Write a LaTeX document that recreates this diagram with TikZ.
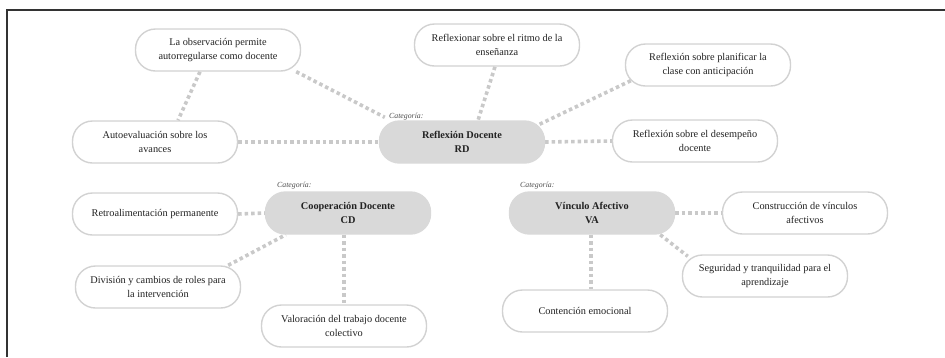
\documentclass[tikz,border=0pt]{standalone}
\usepackage{fontspec}
\setmainfont{Liberation Serif}
\usetikzlibrary{backgrounds}
\definecolor{linkgray}{HTML}{C9C9C9}
\definecolor{boxline}{HTML}{D2D2D2}
\definecolor{catfill}{HTML}{D9D9D9}
\definecolor{txt}{HTML}{222222}
\tikzset{
  item/.style={draw=boxline, line width=1.4pt, fill=white, rounded corners=20pt,
    minimum width=165pt, minimum height=42pt, align=center, text=txt,
    font=\fontsize{10.3}{14.5}\selectfont, inner sep=2pt},
  cat/.style={item, draw=catfill, fill=catfill, font=\bfseries\fontsize{10.3}{14.5}\selectfont},
  catlabel/.style={font=\itshape\fontsize{7.8}{9}\selectfont, text=txt!80, inner sep=0pt, anchor=base west},
  link/.style={draw=linkgray, line width=3.6pt, dash pattern=on 3.5pt off 3pt},
  frameline/.style={draw=black!80, line width=1.2pt}
}
\begin{document}
\begin{tikzpicture}[x=1pt,y=-1pt]
\useasboundingbox (0,0) rectangle (945,357);
\coordinate (fa) at (7,357);
\coordinate (fb) at (7,10);
\coordinate (fc) at (945,10);
\draw[frameline] (fa) -- (fb) -- (fc);

% category nodes
\node[cat] (rd) at (462,142) {Reflexión Docente\\RD};
\node[cat] (cd) at (348,213) {Cooperación Docente\\CD};
\node[cat] (va) at (592,213) {Vínculo Afectivo\\VA};

\node[catlabel] (rdl) at (389,118) {Categoría:};
\node[catlabel] (cdl) at (277,187) {Categoría:};
\node[catlabel] (val) at (520,187) {Categoría:};

% item nodes
\node[item] (lo) at (218,50) {La observación permite\\autorregularse como docente};
\node[item] (ae) at (155,142) {Autoevaluación sobre los\\avances};
\node[item] (rr) at (497,45) {Reflexionar sobre el ritmo de la\\enseñanza};
\node[item] (pl) at (708,65) {Reflexión sobre planificar la\\clase con anticipación};
\node[item] (de) at (695,141) {Reflexión sobre el desempeño\\docente};
\node[item] (rt) at (155,214) {Retroalimentación permanente};
\node[item] (dv) at (158,287) {División y cambios de roles para\\la intervención};
\node[item] (vl) at (344,326) {Valoración del trabajo docente\\colectivo};
\node[item] (cn) at (805,213) {Construcción de vínculos\\afectivos};
\node[item] (sg) at (765,276) {Seguridad y tranquilidad para el\\aprendizaje};
\node[item] (ct) at (585,311) {Contención emocional};

\begin{scope}[on background layer]
\draw[link] ([xshift=-5pt]lo.south east) -- ([xshift=6pt,yshift=3pt]rd.north west);
\draw[link] ([xshift=-18pt]lo.south) -- ([xshift=23pt]ae.north);
\draw[link] (ae.east) -- (rd.west);
\draw[link] ([xshift=-2pt]rr.south) -- ([xshift=16pt]rd.north);
\draw[link] ([xshift=6pt,yshift=6pt]pl.south west) -- ([xshift=-10pt,yshift=-6pt]rd.north east);
\draw[link] (rd.east) -- (de.west);
\draw[link] (rt.east) -- (cd.west);
\draw[link] ([xshift=-13pt]dv.north east) -- ([xshift=21pt]cd.south west);
\draw[link] (vl.north |- cd.south) -- (vl.north);
\draw[link] (va.east) -- (cn.west);
\draw[link] ([xshift=-15pt]va.south east) -- ([xshift=6pt,yshift=-2pt]sg.north west);
\draw[link] ([xshift=-1pt]va.south) -- ([xshift=-1pt]va.south |- ct.north);
\end{scope}
\end{tikzpicture}
\end{document}
